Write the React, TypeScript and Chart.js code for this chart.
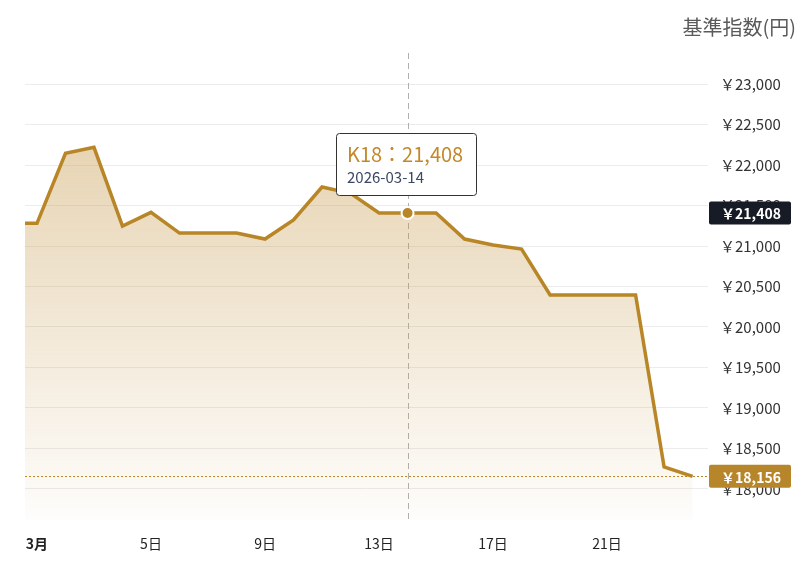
import React, { useEffect, useRef } from "react";
import { Chart, registerables } from "chart.js";

Chart.register(...registerables);

const days = [0, 1, 2, 3, 4, 5, 6, 7, 8, 9, 10, 11, 12, 13, 14, 15, 16, 17, 18, 19, 20, 21, 22, 23, 24];
const values = [
  21280, 21280, 22144, 22218, 21247, 21416, 21160, 21160, 21160, 21086, 21321, 21728, 21650,
  21408, 21408, 21408, 21086, 21012, 20963, 20395, 20395, 20395, 20395, 18272, 18156,
];
const xTickDays = [1, 5, 9, 13, 17, 21];
const yTickValues = [18000, 18500, 19000, 19500, 20000, 20500, 21000, 21500, 22000, 22500, 23000];
const axisTitle = "基準指数(円)";
const seriesName = "K18";
const hoverIndex = 14;
const hoverDate = "2026-03-14";
const lastValue = 18156;

const GOLD = "rgb(184,134,38)";
const FONT = "'Noto Sans CJK JP', 'Noto Sans', sans-serif";

const fmt = (v: number) => v.toLocaleString("en-US");

export default function App() {
  const ref = useRef<HTMLCanvasElement | null>(null);

  useEffect(() => {
    document.body.style.margin = "0";
    const canvas = ref.current!;
    const overlay = {
      id: "overlay",
      beforeDatasetsDraw(chart: any) {
        const { ctx, chartArea, scales } = chart;
        const x = scales.x.getPixelForValue(days[hoverIndex]);
        ctx.save();
        ctx.strokeStyle = "#b0b0b0";
        ctx.lineWidth = 1;
        ctx.setLineDash([6, 4]);
        ctx.beginPath();
        ctx.moveTo(Math.round(x) + 0.5, chartArea.top);
        ctx.lineTo(Math.round(x) + 0.5, chartArea.bottom + 2);
        ctx.stroke();
        const yl = scales.y.getPixelForValue(lastValue);
        ctx.strokeStyle = GOLD;
        ctx.setLineDash([2, 2]);
        ctx.beginPath();
        ctx.moveTo(chartArea.left, Math.round(yl) + 0.5);
        ctx.lineTo(chartArea.right, Math.round(yl) + 0.5);
        ctx.stroke();
        ctx.restore();
      },
      afterDraw(chart: any) {
        const { ctx, chartArea, scales } = chart;
        ctx.save();
        // axis title
        ctx.font = `20px ${FONT}`;
        ctx.fillStyle = "#5a5a5a";
        ctx.textAlign = "right";
        ctx.textBaseline = "middle";
        ctx.fillText(axisTitle, 796, 27);

        // badges
        const badge = (v: number, bg: string) => {
          const y = scales.y.getPixelForValue(v);
          const x0 = chartArea.right + 1;
          const w = 82;
          const h = 23;
          ctx.fillStyle = bg;
          ctx.beginPath();
          ctx.roundRect(x0, y - h / 2, w, h, 2);
          ctx.fill();
          ctx.fillStyle = "#fff";
          ctx.font = `bold 14px ${FONT}`;
          ctx.textAlign = "center";
          ctx.textBaseline = "middle";
          ctx.fillText("￥" + fmt(v), x0 + w / 2 + 1, y + 1);
        };
        badge(values[hoverIndex], "#161b26");
        badge(lastValue, "#b8862a");

        // tooltip
        const bx = 336, by = 133, bw = 140, bh = 62;
        ctx.fillStyle = "#fff";
        ctx.strokeStyle = "#333";
        ctx.lineWidth = 1;
        ctx.beginPath();
        ctx.roundRect(bx + 0.5, by + 0.5, bw, bh, 3);
        ctx.fill();
        ctx.stroke();
        ctx.textAlign = "left";
        ctx.textBaseline = "middle";
        ctx.fillStyle = "#c4882a";
        ctx.font = `20px ${FONT}`;
        ctx.fillText(`${seriesName}：${fmt(values[hoverIndex])}`, bx + 11, by + 21);
        ctx.fillStyle = "#3b4763";
        ctx.font = `15px ${FONT}`;
        ctx.fillText(hoverDate, bx + 11, by + 44);
        ctx.restore();
      },
    };

    const chart = new Chart(canvas, {
      type: "line",
      data: {
        datasets: [
          {
            label: seriesName,
            data: days.map((d, i) => ({ x: d, y: values[i] })),
            borderColor: GOLD,
            borderWidth: 3.5,
            tension: 0,
            fill: "start",
            backgroundColor: (c: any) => {
              const area = c.chart.chartArea;
              if (!area) return "rgba(196,150,70,0.3)";
              const g = c.chart.ctx.createLinearGradient(0, area.top, 0, area.bottom);
              g.addColorStop(0, "rgba(196,150,70,0.5)");
              g.addColorStop(1, "rgba(196,150,70,0.02)");
              return g;
            },
            pointRadius: (c: any) => (c.dataIndex === hoverIndex ? 6 : 0),
            pointBackgroundColor: GOLD,
            pointBorderColor: "#fff",
            pointBorderWidth: 2,
          },
        ],
      },
      options: {
        animation: false,
        responsive: true,
        maintainAspectRatio: false,
        layout: { padding: { top: 53, left: 25, right: 0, bottom: 0 } },
        plugins: { legend: { display: false }, tooltip: { enabled: false } },
        scales: {
          x: {
            type: "linear",
            min: 0.58,
            max: 24.54,
            grid: { display: false },
            border: { display: false },
            afterBuildTicks: (s: any) => {
              s.ticks = xTickDays.map((v) => ({ value: v }));
            },
            afterFit: (s: any) => {
              s.height = 45;
            },
            ticks: {
              autoSkip: false,
              maxRotation: 0,
              padding: 7,
              color: "#222",
              font: (c: any) => ({ family: FONT, size: 14, weight: c.index === 0 ? "bold" : "normal" }),
              callback: (v: any) => (v === 1 ? "3月" : `${v}日`),
            },
          },
          y: {
            position: "right",
            min: 17617,
            max: 23383,
            grid: { color: "#ececec", drawTicks: false },
            border: { display: false },
            afterBuildTicks: (s: any) => {
              s.ticks = yTickValues.map((v) => ({ value: v }));
            },
            afterFit: (s: any) => {
              s.width = 92;
            },
            ticks: {
              padding: 12,
              color: "#333",
              font: { family: FONT, size: 15 },
              callback: (v: any) => "￥" + fmt(Number(v)),
            },
          },
        },
      },
      plugins: [overlay],
    });
    return () => chart.destroy();
  }, []);

  return (
    <div style={{ width: 800, height: 565, position: "relative" }}>
      <canvas ref={ref} />
    </div>
  );
}
